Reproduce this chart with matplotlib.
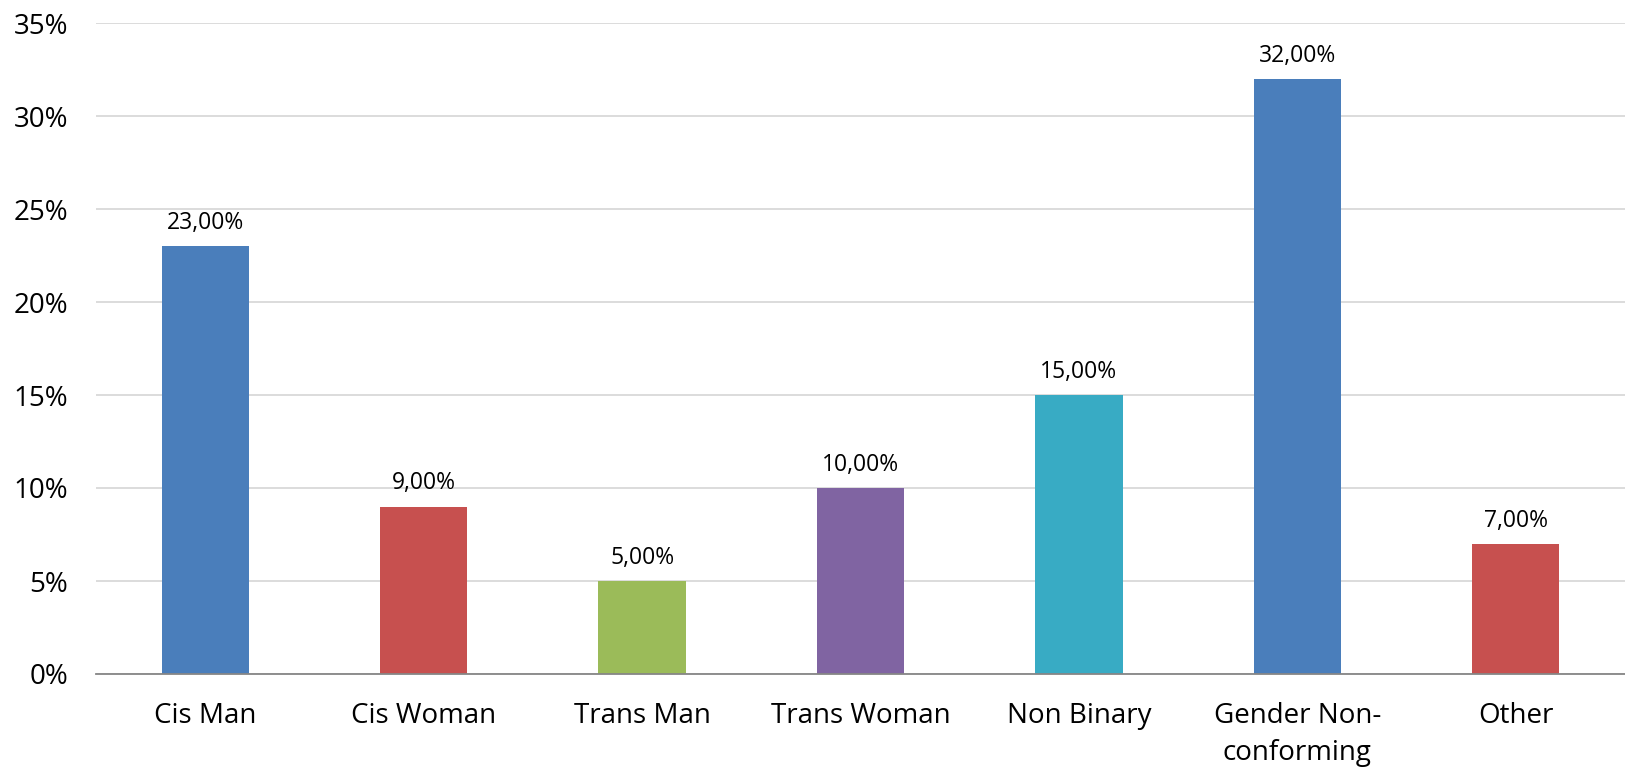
import matplotlib
matplotlib.use("Agg")
import matplotlib.pyplot as plt
from matplotlib.ticker import FuncFormatter

categories = ["Cis Man", "Cis Woman", "Trans Man", "Trans Woman", "Non Binary",
              "Gender Non-\nconforming", "Other"]
values = [23.0, 9.0, 5.0, 10.0, 15.0, 32.0, 7.0]
colors = ["#4A7EBB", "#C7504F", "#9BBB59", "#8064A2", "#38ABC4", "#4A7EBB", "#C7504F"]
yticks = [0, 5, 10, 15, 20, 25, 30, 35]

plt.rcParams['font.family'] = ['Open Sans', 'DejaVu Sans']

fig = plt.figure(figsize=(16.25, 7.71), dpi=100)
ax = fig.add_axes([96/1625, 97/771, (1625-96)/1625, (674-23)/771])

x = list(range(len(categories)))
ax.bar(x, values, width=0.4, color=colors, zorder=3)
for xi, v in zip(x, values):
    ax.annotate(f"{v:.2f}%".replace(".", ","), (xi, v), xytext=(0, 8),
                textcoords="offset points", ha="center", va="bottom",
                fontsize=16.5, color="#000000")

ax.set_xlim(-0.5, len(categories) - 0.5)
ax.set_ylim(0, 35)
ax.set_yticks(yticks)
ax.yaxis.set_major_formatter(FuncFormatter(lambda v, p: f"{int(v)}%"))
ax.set_xticks(x)
ax.set_xticklabels(categories, linespacing=1.45)
ax.tick_params(axis="y", length=0, pad=20, labelsize=20)
ax.tick_params(axis="x", length=0, pad=20, labelsize=20)
ax.grid(axis="y", color="#D9D9D9", linewidth=1.3, zorder=0)
for s in ["top", "right", "left"]:
    ax.spines[s].set_visible(False)
ax.spines["bottom"].set_color("#868686")
ax.spines["bottom"].set_linewidth(1.3)
ax.spines["bottom"].set_zorder(4)

fig.savefig("out.png", dpi=100)
